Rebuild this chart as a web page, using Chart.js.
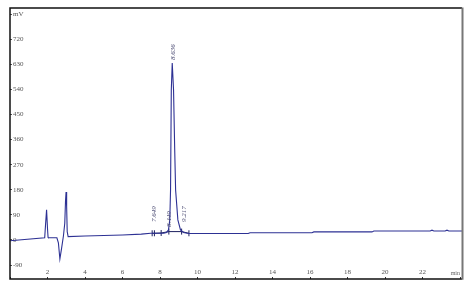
<!DOCTYPE html>
<html>
<head>
<meta charset="utf-8">
<script src="https://cdn.jsdelivr.net/npm/chart.js@4"></script>
<style>
html,body{margin:0;padding:0;background:#fff;}
#wrap{width:470px;height:290px;}
</style>
</head>
<body>
<div id="wrap"><canvas id="c" width="470" height="290"></canvas></div>
<script>
// Retention time (min) and detector signal (mV)
const timeMin = [0, 1.85, 1.9, 1.95, 2.0, 2.03, 2.05, 2.5, 2.58, 2.66, 2.75, 2.85, 2.92, 2.96, 2.99, 3.02, 3.05, 3.1,
  4, 5, 6, 7, 7.5, 8.0, 8.2, 8.35, 8.45, 8.52, 8.56, 8.60, 8.65, 8.72, 8.78, 8.83, 8.95, 9.09, 9.25, 9.45, 9.6,
  10, 12.7, 12.8, 16.1, 16.2, 19.3, 19.4, 22.4, 22.5, 22.6, 23.2, 23.3, 23.4, 24.1];
const signalMv = [-3, 8, 60, 108, 40, 9, 8, 8, -10, -68, -30, 15, 60, 140, 172, 120, 30, 12,
  14, 16, 18, 21, 24, 24, 24, 27, 36, 72, 179, 538, 635, 538, 330, 179, 72, 36, 27, 24, 23,
  23, 23, 26, 26, 29, 29, 32, 32, 35, 32, 32, 35, 32, 32];

// Integration marks (min) and their baseline level (mV)
const markTimes = [7.58, 7.70, 8.06, 8.47, 9.15, 9.54];
const markLevels = [24, 24, 25, 30, 30, 24];

// Peak labels: retention time text, time, label anchor level (mV)
const peakNames = ['7.649', '8.449', '8.636', '9.217'];
const peakTimes = [7.649, 8.449, 8.636, 9.217];
const peakLevels = [54, 36, 635, 54];

// Axis ticks
const xTickStep = 2;
const yTickStep = 90;
const xUnit = 'min';
const yUnit = 'mV';

const serif = '"Liberation Serif", "DejaVu Serif", serif';

const framePlugin = {
  id: 'frame',
  afterDraw(chart) {
    const {ctx, chartArea: a, scales} = chart;
    ctx.save();
    // peak labels
    ctx.fillStyle = '#4a4a72';
    ctx.font = 'italic 7px ' + serif;
    ctx.textAlign = 'left';
    ctx.textBaseline = 'middle';
    peakNames.forEach((n, i) => {
      const x = scales.x.getPixelForValue(peakTimes[i]) + 1;
      const y = scales.y.getPixelForValue(peakLevels[i]) - 3;
      ctx.save();
      ctx.translate(x, y);
      ctx.rotate(-Math.PI / 2);
      ctx.fillText(n, 0, 0);
      ctx.restore();
    });
    // unit label on x
    ctx.font = '6px ' + serif;
    ctx.fillStyle = '#666';
    ctx.textAlign = 'right';
    ctx.fillText(xUnit, a.right - 2, a.bottom - 6);
    // frame
    ctx.strokeStyle = '#111';
    ctx.lineWidth = 1.5;
    ctx.beginPath();
    ctx.moveTo(a.right, a.top);
    ctx.lineTo(a.left, a.top);
    ctx.lineTo(a.left, a.bottom);
    ctx.lineTo(a.right, a.bottom);
    ctx.stroke();
    ctx.strokeStyle = '#777';
    ctx.lineWidth = 2;
    ctx.beginPath();
    ctx.moveTo(a.right + 0.5, a.top - 0.5);
    ctx.lineTo(a.right + 0.5, a.bottom + 0.75);
    ctx.stroke();
    ctx.restore();
  }
};

new Chart(document.getElementById('c'), {
  type: 'line',
  data: {
    datasets: [
      {
        data: timeMin.map((t, i) => ({x: t, y: signalMv[i]})),
        borderColor: '#2d3194',
        borderWidth: 1.1,
        pointRadius: 0,
        tension: 0,
        fill: false
      },
      {
        data: markTimes.map((t, i) => ({x: t, y: markLevels[i]})),
        borderColor: '#1c1f5e',
        backgroundColor: '#1c1f5e',
        borderWidth: 1,
        pointStyle: 'line',
        pointRotation: 90,
        pointRadius: 3,
        pointBorderWidth: 1,
        showLine: true,
        tension: 0
      }
    ]
  },
  options: {
    responsive: false,
    animation: false,
    layout: {padding: {left: 10, top: 8, right: 8, bottom: 11}},
    plugins: {legend: {display: false}, tooltip: {enabled: false}},
    scales: {
      x: {
        type: 'linear',
        min: 0,
        max: 24.1,
        afterFit(s) { s.height = 0; },
        border: {display: false},
        grid: {drawOnChartArea: false, drawTicks: true, tickLength: -2, color: '#333'},
        ticks: {
          stepSize: xTickStep,
          includeBounds: false,
          maxRotation: 0,
          autoSkip: false,
          mirror: true,
          padding: 3,
          color: '#555',
          font: {family: serif, size: 7},
          callback: v => (v > 0 && v < 24 ? String(v) : '')
        }
      },
      y: {
        type: 'linear',
        min: -140,
        max: 832,
        afterFit(s) { s.width = 0; },
        border: {display: false},
        grid: {drawOnChartArea: false, drawTicks: true, tickLength: -2, color: '#555'},
        ticks: {
          stepSize: yTickStep,
          includeBounds: false,
          mirror: true,
          padding: 3,
          autoSkip: false,
          color: '#555',
          font: {family: serif, size: 7},
          callback: v => (v === 810 ? yUnit : String(v))
        }
      }
    }
  },
  plugins: [framePlugin]
});
</script>
</body>
</html>
